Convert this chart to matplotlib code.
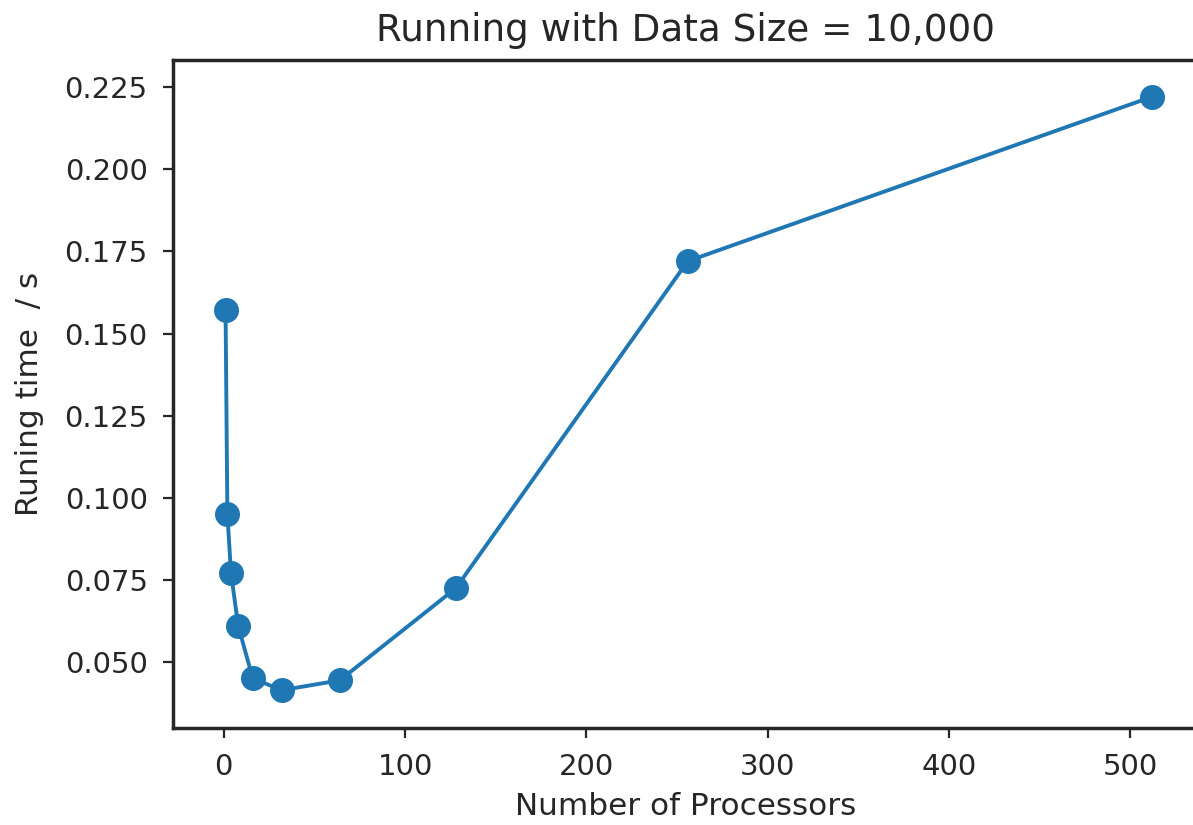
import numpy as np
import matplotlib
matplotlib.use("Agg")
import matplotlib.pyplot as plt

# running time for data size 10,000
processors = [1, 2, 4, 8, 16, 32, 64, 128, 256, 512]
run_time = [0.1571, 0.0951, 0.0771, 0.0610, 0.0451, 0.0415, 0.0445, 0.0725, 0.1720, 0.2220]

dark = '#262626'
plt.rcParams['text.color'] = dark
plt.rcParams['axes.labelcolor'] = dark
plt.rcParams['xtick.color'] = dark
plt.rcParams['ytick.color'] = dark
plt.rcParams['axes.edgecolor'] = dark
plt.rcParams['axes.linewidth'] = 1.25

fig = plt.figure(figsize=(1193 / 200, 825 / 200), dpi=200)
ax = fig.add_axes([173 / 1193, 1 - 728 / 825, 1025 / 1193, 668 / 825])

ax.plot(processors, run_time, '-o', color='#1f77b4', lw=1.4, markersize=8)
ax.set_xlim(-28, 537.5)
ax.set_ylim(0.030, 0.2332)
ax.set_yticks(np.arange(0.050, 0.2251, 0.025))
ax.set_xticks([0, 100, 200, 300, 400, 500])
ax.tick_params(labelsize=10.5, length=3.6, width=0.8, pad=5.5)

ax.set_title('Running with Data Size = 10,000', fontsize=13.4, pad=7)
ax.set_xlabel('Number of Processors', fontsize=11.2, labelpad=4)
ax.set_ylabel('Runing time  / s', fontsize=11.2, labelpad=7.5)

fig.savefig('out.png', dpi=200)
